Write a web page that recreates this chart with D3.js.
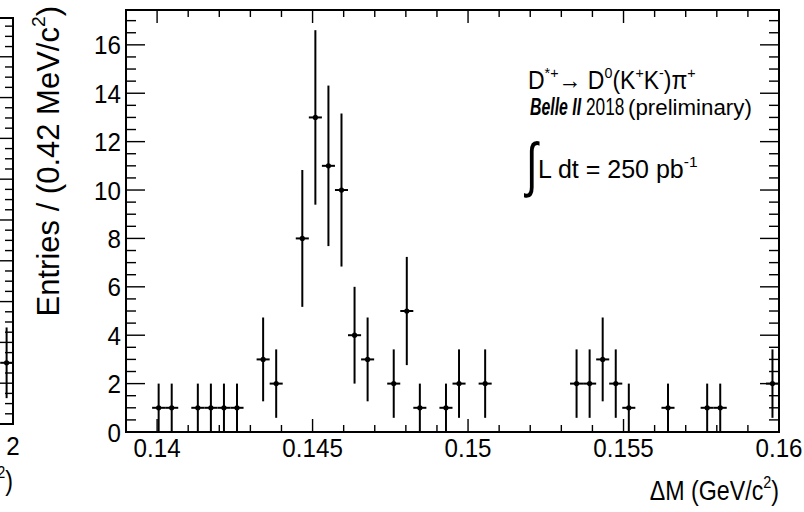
<!DOCTYPE html>
<html>
<head>
<meta charset="utf-8">
<script src="https://cdn.jsdelivr.net/npm/d3@7/dist/d3.min.js"></script>
<style>
  body { margin: 0; background: #fff; }
  text { font-family: "Liberation Sans", Arial, Helvetica, sans-serif; fill: #000; }
</style>
</head>
<body>
<svg id="chart" width="804" height="512"></svg>
<script>
// histogram: 50 bins of 0.42 MeV starting at 0.139 GeV
const binLow = 0.139;
const binWidth = 0.00042;
const counts = [
  0, 0, 1, 1, 0, 1, 1, 1, 1, 0,
  3, 2, 0, 8, 13, 11, 10, 4, 3, 0,
  2, 5, 1, 0, 1, 2, 0, 2, 0, 0,
  0, 0, 0, 0, 2, 2, 3, 2, 1, 0,
  0, 1, 0, 0, 1, 1, 0, 0, 0, 2
];
const xMajor = [0.14, 0.145, 0.15, 0.155, 0.16];
const xMajorLabels = ["0.14", "0.145", "0.15", "0.155", "0.16"];
const yMajor = [0, 2, 4, 6, 8, 10, 12, 14, 16];
const yMax = 17.44;

// neighbouring panel, only its right edge is in view
const leftBins = [1.995];
const leftCounts = [3];
const leftXLabels = ["2"];

const svg = d3.select("#chart");

const frame = { left: 126, right: 779, top: 10, bottom: 432 };

const x = d3.scaleLinear().domain([binLow, binLow + binWidth * counts.length])
  .range([frame.left, frame.right]);
const y = d3.scaleLinear().domain([0, yMax]).range([frame.bottom, frame.top]);

// text with superscripts, squeezed by sx along the line
function richText(parent, px, py, parts, fs, sx, anchor, rotate) {
  const g = parent.append("g")
    .attr("transform", `translate(${px},${py})` + (rotate ? ` rotate(${rotate})` : "") + ` scale(${sx},1)`);
  const t = g.append("text").attr("font-size", fs).attr("text-anchor", anchor || "start");
  let shift = 0;
  parts.forEach(p => {
    const size = p.size || (p.sup ? fs * 0.62 : fs);
    const target = p.sup ? -0.45 * fs : 0;
    t.append("tspan")
      .attr("dy", target - shift)
      .attr("font-size", size)
      .attr("font-weight", p.bold ? "bold" : null)
      .attr("font-style", p.italic ? "italic" : null)
      .text(p.t);
    shift = target;
  });
  return t;
}

function ticksBetween(a, b, step) {
  const out = [];
  for (let v = a; v <= b + step / 10; v += step) out.push(+v.toFixed(6));
  return out;
}
const xMinor = ticksBetween(0.14, 0.16, 0.001);
const yMinor = ticksBetween(0, 17, 0.5);

// ticks on all four sides
const tg = svg.append("g").attr("stroke", "#000").attr("stroke-width", 1.4);
xMinor.forEach(v => {
  const len = xMajor.some(m => Math.abs(m - v) < 1e-7) ? 13 : 7;
  tg.append("line").attr("x1", x(v)).attr("x2", x(v)).attr("y1", frame.bottom).attr("y2", frame.bottom - len);
  tg.append("line").attr("x1", x(v)).attr("x2", x(v)).attr("y1", frame.top).attr("y2", frame.top + len);
});
yMinor.forEach(v => {
  const len = yMajor.includes(v) ? 19 : 10;
  tg.append("line").attr("x1", frame.left).attr("x2", frame.left + len).attr("y1", y(v)).attr("y2", y(v));
  tg.append("line").attr("x1", frame.right).attr("x2", frame.right - len).attr("y1", y(v)).attr("y2", y(v));
});

svg.append("rect")
  .attr("x", frame.left).attr("y", frame.top)
  .attr("width", frame.right - frame.left).attr("height", frame.bottom - frame.top)
  .attr("fill", "none").attr("stroke", "#000").attr("stroke-width", 2);

// tick labels
xMajor.forEach((v, i) => richText(svg, x(v), 457, [{ t: xMajorLabels[i] }], 26, 0.93, "middle"));
yMajor.forEach(v => richText(svg, 121, y(v) + 9.5, [{ t: String(v) }], 26, 0.93, "end"));

// axis titles
richText(svg, frame.right, 500, [{ t: "\u0394M (GeV/c" }, { t: "2", sup: true }, { t: ")" }], 27, 0.86, "end");
richText(svg, 59, 6, [{ t: "Entries / (0.42 MeV/c" }, { t: "2", sup: true }, { t: ")" }], 31, 1, "end", -90);

// data points with sqrt(N) errors
const pts = counts.map((n, i) => ({ c: binLow + (i + 0.5) * binWidth, n }))
  .filter(d => d.n > 0);
const dg = svg.append("g").attr("stroke", "#000").attr("stroke-width", 2);
pts.forEach(d => {
  const e = Math.sqrt(d.n);
  dg.append("line").attr("x1", x(d.c)).attr("x2", x(d.c)).attr("y1", y(d.n + e)).attr("y2", y(Math.max(0, d.n - e)));
  dg.append("line").attr("x1", x(d.c - binWidth / 2)).attr("x2", x(d.c + binWidth / 2)).attr("y1", y(d.n)).attr("y2", y(d.n));
});
svg.append("g").selectAll("circle").data(pts).join("circle")
  .attr("cx", d => x(d.c)).attr("cy", d => y(d.n)).attr("r", 2.6).attr("fill", "#000");

// annotation
richText(svg, 528, 89, [
  { t: "D" }, { t: "*+", sup: true }, { t: "\u2192 D" }, { t: "0", sup: true },
  { t: "(K" }, { t: "+", sup: true }, { t: "K" }, { t: "-", sup: true },
  { t: ")\u03C0" }, { t: "+", sup: true }
], 25, 0.92, "start");
richText(svg, 530, 115, [{ t: "Belle II", bold: true, italic: true }], 24, 0.66, "start");
richText(svg, 586, 115, [{ t: "2018" }], 24, 0.72, "start");
richText(svg, 628, 115, [{ t: "(preliminary)" }], 23, 0.97, "start");
svg.append("g").attr("transform", "translate(526,185) scale(0.7,1)")
  .append("text").attr("font-family", "DejaVu Sans").attr("font-size", 60).text("\u222B");
richText(svg, 538, 178, [{ t: "L dt = 250 pb" }, { t: "-1", sup: true }], 25, 1, "start");

// neighbouring panel on the left (cut off by the window)
const lx = d3.scaleLinear().domain([1.5, 2.0]).range([-627, 13]);
const ly = d3.scaleLinear().domain([0, 19.9]).range([424, 18]);
const lg = svg.append("g").attr("stroke", "#000").attr("stroke-width", 1.4);
ticksBetween(0, 19.5, 0.5).forEach(v => {
  const len = Math.abs(v % 2) < 1e-6 ? 19 : 8;
  lg.append("line").attr("x1", lx(2.0)).attr("x2", lx(2.0) - len).attr("y1", ly(v)).attr("y2", ly(v));
});
svg.append("rect").attr("x", lx(1.5)).attr("y", ly(19.9))
  .attr("width", lx(2.0) - lx(1.5)).attr("height", ly(0) - ly(19.9))
  .attr("fill", "none").attr("stroke", "#000").attr("stroke-width", 2);
const lpg = svg.append("g").attr("stroke", "#000").attr("stroke-width", 2);
leftBins.forEach((c, i) => {
  const n = leftCounts[i], e = Math.sqrt(n);
  lpg.append("line").attr("x1", lx(c)).attr("x2", lx(c)).attr("y1", ly(n + e)).attr("y2", ly(n - e));
  lpg.append("line").attr("x1", lx(c - 0.005)).attr("x2", lx(c + 0.005)).attr("y1", ly(n)).attr("y2", ly(n));
  svg.append("circle").attr("cx", lx(c)).attr("cy", ly(n)).attr("r", 2.6).attr("fill", "#000");
});
richText(svg, lx(2.0), 455, [{ t: leftXLabels[0] }], 26, 0.93, "middle");
richText(svg, lx(2.0), 490, [{ t: "M (GeV/c" }, { t: "2", sup: true }, { t: ")" }], 27, 0.86, "end");
</script>
</body>
</html>
